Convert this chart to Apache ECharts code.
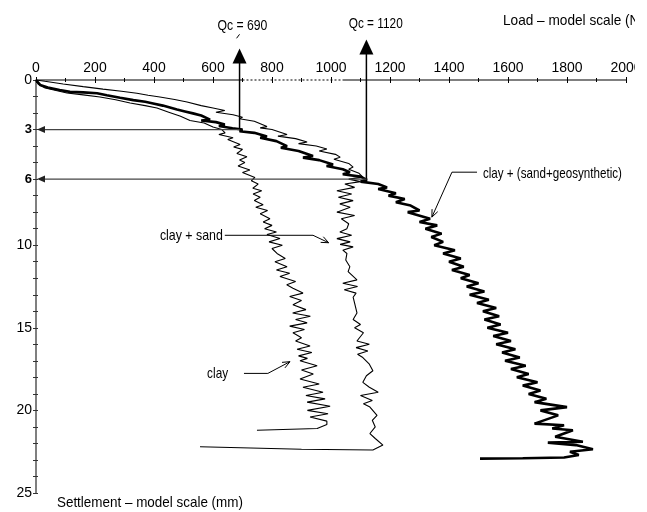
<!DOCTYPE html>
<html><head><meta charset="utf-8">
<script src="https://cdn.jsdelivr.net/npm/echarts@6/dist/echarts.min.js"></script>
<style>html,body{margin:0;padding:0;background:#fff}#c{width:647px;height:512px}</style>
</head><body><div id="c"></div>
<script>
// ---------- data (load N, settlement mm) ----------
const xTickValues = [0,200,400,600,800,1000,1200,1400,1600,1800,2000];
const yLabelValues = [0,3,6,10,15,20,25];
const yBoldValues = [3,6];

const clay = [[0,0],[7,0.24],[31,0.48],[105,0.79],[160,0.9],[217,1.03],[270,1.2],[319,1.39],[370,1.55],[410,1.7],[450,1.95],[490,2.2],[522,2.45],[570,2.6],[600,2.85],[630,3.0],[641,3.2],[620,3.3],[668,3.5],[650,3.6],[692,3.9],[670,4.05],[700,4.2],[681,4.45],[715,4.65],[690,4.85],[708,5.0],[685,5.2],[725,5.45],[700,5.6],[742,5.9],[730,6.1],[753,6.3],[735,6.55],[765,6.7],[736,6.9],[760,7.1],[740,7.3],[770,7.55],[745,7.7],[785,7.9],[760,8.1],[793,8.4],[770,8.6],[800,8.8],[775,9.0],[815,9.2],[783,9.35],[827,9.6],[790,9.8],[835,10.0],[800,10.2],[817,10.5],[845,10.8],[810,11.0],[851,11.3],[815,11.5],[860,11.7],[827,11.9],[880,12.2],[850,12.4],[871,12.6],[905,12.9],[860,13.1],[900,13.35],[871,13.6],[915,13.9],[870,14.1],[930,14.3],[880,14.5],[919,14.7],[860,14.9],[910,15.1],[871,15.3],[900,15.6],[880,15.8],[929,16.1],[885,16.3],[935,16.5],[890,16.7],[920,16.85],[895,17.0],[953,17.3],[900,17.55],[940,17.8],[895,18.1],[960,18.4],[905,18.6],[973,18.9],[915,19.1],[980,19.3],[919,19.5],[997,19.75],[920,20.0],[990,20.2],[929,20.4],[986,20.65],[986,20.85],[953,21.1],[749,21.2]];

const claySand = [[0,0],[30,0.08],[92,0.24],[160,0.4],[227,0.55],[290,0.68],[342,0.8],[380,0.92],[420,1.03],[470,1.18],[512,1.33],[560,1.55],[600,1.7],[640,1.85],[610,1.95],[668,2.1],[700,2.25],[690,2.35],[740,2.5],[783,2.82],[760,2.9],[800,3.0],[851,3.3],[820,3.4],[880,3.55],[919,3.75],[890,3.85],[950,4.0],[986,4.18],[960,4.3],[1015,4.5],[1031,4.67],[1010,4.8],[1060,5.05],[1075,5.27],[1060,5.4],[1095,5.65],[1108,5.88],[1060,6.0],[1100,6.15],[1047,6.3],[1080,6.5],[1020,6.7],[1070,6.9],[1025,7.1],[1075,7.3],[1030,7.5],[1065,7.7],[1020,8.0],[1080,8.2],[1035,8.4],[1060,8.7],[1054,9.0],[1030,9.2],[1070,9.4],[1020,9.6],[1065,9.8],[1031,9.95],[1075,10.1],[1040,10.3],[1054,10.5],[1050,10.9],[1064,11.3],[1058,11.6],[1088,12.1],[1040,12.3],[1090,12.5],[1045,12.7],[1085,12.9],[1075,13.15],[1080,13.5],[1088,14.1],[1075,14.5],[1100,14.8],[1080,15.0],[1110,15.3],[1088,15.8],[1130,16.0],[1085,16.2],[1125,16.4],[1090,16.6],[1108,16.8],[1130,17.2],[1142,17.6],[1120,17.9],[1108,18.3],[1130,18.6],[1160,18.9],[1100,19.1],[1140,19.4],[1110,19.6],[1132,19.8],[1156,20.3],[1140,20.6],[1150,21.0],[1132,21.4],[1150,21.7],[1176,22.1],[1142,22.4],[900,22.35],[556,22.2]];

const clayGeo = [[0,0],[5,0.1],[14,0.3],[40,0.45],[80,0.6],[115,0.72],[160,0.75],[207,0.8],[240,0.92],[285,1.08],[330,1.22],[370,1.32],[397,1.42],[430,1.55],[478,1.78],[505,1.9],[532,2.02],[560,2.15],[590,2.4],[560,2.45],[610,2.55],[640,2.7],[620,2.78],[666,2.92],[700,3.0],[690,3.1],[740,3.2],[783,3.42],[760,3.5],[815,3.7],[851,4.0],[830,4.1],[890,4.3],[939,4.6],[905,4.7],[960,4.85],[1007,5.12],[985,5.2],[1040,5.4],[1064,5.58],[1040,5.7],[1100,5.85],[1122,6.05],[1100,6.15],[1160,6.3],[1190,6.5],[1160,6.6],[1220,6.85],[1195,7.0],[1250,7.2],[1220,7.4],[1270,7.6],[1300,7.9],[1260,8.0],[1336,8.4],[1300,8.6],[1360,8.8],[1320,9.0],[1375,9.3],[1340,9.5],[1380,9.8],[1350,10.0],[1420,10.3],[1380,10.5],[1440,10.8],[1400,11.0],[1450,11.3],[1410,11.5],[1470,11.8],[1440,12.0],[1500,12.3],[1460,12.5],[1520,12.8],[1470,13.0],[1535,13.3],[1495,13.5],[1560,13.8],[1515,14.0],[1570,14.3],[1520,14.5],[1575,14.8],[1530,15.0],[1600,15.3],[1550,15.5],[1610,15.8],[1560,16.0],[1625,16.3],[1580,16.5],[1640,16.8],[1590,17.0],[1660,17.3],[1610,17.5],[1670,17.8],[1630,18.0],[1700,18.3],[1650,18.5],[1710,18.8],[1670,19.0],[1730,19.3],[1690,19.5],[1800,19.8],[1710,20.0],[1770,20.3],[1690,20.8],[1790,20.9],[1750,21.1],[1820,21.2],[1760,21.6],[1854,21.9],[1735,21.95],[1830,22.1],[1888,22.35],[1810,22.5],[1840,22.7],[1790,22.85],[1650,22.9],[1505,22.92]];

// annotations (data coordinates)
const qcLoads = [690, 1120];
const qcSettlements = [3, 6];
const qcArrowTops = [-1.9, -2.45];
const qcLabels = ['Qc = 690', 'Qc = 1120'];
const qcLabelPos = [[615,-3.25],[1060,-3.4]];
const dottedAxisRange = [700, 1040];
const curveLabels = ['clay', 'clay + sand', 'clay + (sand+geosynthetic)'];
const curveLabelPos = [[580,17.76],[420,9.45],[1515,5.7]];
const curveLeaders = [
  [[705,17.76],[786,17.76],[861,17.05]],
  [[640,9.4],[939,9.4],[992,9.85]],
  [[1495,5.58],[1410,5.58],[1342,8.3]]
];
const xTitle = 'Load – model scale (N)';
const yTitle = 'Settlement – model scale (mm)';
const xTitlePos = [1583,-3.55];
const yTitlePos = [71,25.6];

const FONT = "'Liberation Sans',Arial,sans-serif";
const ANN_SIZE = 15;
// target rendered widths of the condensed annotation texts
const annWidths = {'Qc = 690':50, 'Qc = 1120':54, 'clay':21, 'clay + sand':63, 'clay + (sand+geosynthetic)':139,
  'Settlement – model scale (mm)':186, 'Load – model scale (N)':141};

const ctx = document.createElement('canvas').getContext('2d');
ctx.font = ANN_SIZE + 'px ' + FONT;

const chart = echarts.init(document.getElementById('c'), null, {renderer:'canvas'});
const option = {
  animation:false,
  backgroundColor:'#fff',
  grid:{left:36, top:80, right:21, bottom:19},
  xAxis:[{
    type:'value', position:'top', min:0, max:2000, interval:200,
    axisLine:{show:false},
    axisTick:{show:true, length:3, lineStyle:{color:'#000', width:1}},
    minorTick:{show:true, splitNumber:2, length:2, lineStyle:{color:'#000'}},
    axisLabel:{color:'#000', fontSize:14, fontFamily:FONT, margin:5, formatter:v => String(v)},
    splitLine:{show:false}, minorSplitLine:{show:false}
  },{
    type:'value', position:'top', min:0, max:2000, interval:200,
    axisLine:{show:false},
    axisTick:{show:true, inside:true, length:3, lineStyle:{color:'#000'}},
    minorTick:{show:true, splitNumber:2, length:2, lineStyle:{color:'#000'}},
    axisLabel:{show:false}, splitLine:{show:false}
  }],
  yAxis:[{
    type:'value', inverse:true, min:0, max:25, interval:1,
    axisLine:{show:true, lineStyle:{color:'#555', width:1.5}},
    axisTick:{show:true, length:3, lineStyle:{color:'#333'}},
    axisLabel:{
      color:'#000', fontSize:14, fontFamily:FONT, margin:4,
      formatter:function(v){
        if (yLabelValues.indexOf(v) < 0) return '';
        return yBoldValues.indexOf(v) >= 0 ? '{b|' + v + '}' : String(v);
      },
      rich:{b:{fontWeight:'bold', fontSize:13, fontFamily:FONT, color:'#000'}}
    },
    splitLine:{show:false}
  },{
    type:'value', inverse:true, min:0, max:25, interval:1, position:'left',
    axisLine:{show:false},
    axisTick:{show:true, inside:true, length:2, lineStyle:{color:'#333'}},
    axisLabel:{show:false}, splitLine:{show:false}
  }],
  series:[
    {type:'line', data:[[0,0],[dottedAxisRange[0],0]], symbol:'none', clip:false, silent:true,
     lineStyle:{color:'#000', width:1.2}, z:1},
    {type:'line', data:[[dottedAxisRange[0],0],[dottedAxisRange[1],0]], symbol:'none', clip:false, silent:true,
     lineStyle:{color:'#000', width:1.2, type:[2,2]}, z:1},
    {type:'line', data:[[dottedAxisRange[1],0],[2000,0]], symbol:'none', clip:false, silent:true,
     lineStyle:{color:'#000', width:1.2}, z:1},
    {name:'clay', type:'line', data:clay, symbol:'none', lineStyle:{color:'#000', width:1.1}, z:3},
    {name:'clay + sand', type:'line', data:claySand, symbol:'none', lineStyle:{color:'#000', width:1.1}, z:3},
    {name:'clay + (sand+geosynthetic)', type:'line', data:clayGeo, symbol:'none', lineStyle:{color:'#000', width:2.6}, z:4}
  ]
};
chart.setOption(option);

const P = (x,y) => chart.convertToPixel({xAxisIndex:0, yAxisIndex:0}, [x,y]);
const g = [];
const txt = (t, p) => {
  const w = ctx.measureText(t).width;
  const sx = annWidths[t] ? Math.min(1, annWidths[t] / w) : 1;
  g.push({type:'text', z:20, x:p[0], y:p[1], scaleX:sx, originX:0, originY:0,
    style:{text:t, x:0, y:0, fill:'#000', font:ANN_SIZE+'px '+FONT, textAlign:'left', textVerticalAlign:'middle'}});
};
const line = (a,b,color,w) => g.push({type:'line', z:15, shape:{x1:a[0],y1:a[1],x2:b[0],y2:b[1]}, style:{stroke:color||'#000', lineWidth:w||1}});

// Qc arrows
for (let i=0;i<qcLoads.length;i++){
  const base = P(qcLoads[i], qcSettlements[i]);
  const top = P(qcLoads[i], qcArrowTops[i]);
  const axisPt = P(0, qcSettlements[i]);
  line(base, [top[0], top[1]+14], '#000', 1.5);
  g.push({type:'polygon', z:16, shape:{points:[[top[0],top[1]],[top[0]-7,top[1]+15],[top[0]+7,top[1]+15]]}, style:{fill:'#000'}});
  line([base[0], base[1]], [axisPt[0]+6, axisPt[1]], '#444', 1.3);
  g.push({type:'polygon', z:16, shape:{points:[[axisPt[0]+1,axisPt[1]],[axisPt[0]+9,axisPt[1]-3.5],[axisPt[0]+9,axisPt[1]+3.5]]}, style:{fill:'#222'}});
  txt(qcLabels[i], P(qcLabelPos[i][0], qcLabelPos[i][1]));
}
// small slash under Qc = 690
(function(){ const p = P(qcLoads[0], qcLabelPos[0][1]); line([p[0]-3,p[1]+12],[p[0],p[1]+8],'#000',1); })();

// curve labels with leaders
for (let i=0;i<curveLabels.length;i++){
  txt(curveLabels[i], P(curveLabelPos[i][0], curveLabelPos[i][1]));
  const pts = curveLeaders[i].map(d => P(d[0], d[1]));
  for (let k=0;k<pts.length-1;k++) line(pts[k], pts[k+1], '#000', 1);
  const a = pts[pts.length-2], b = pts[pts.length-1];
  const ang = Math.atan2(b[1]-a[1], b[0]-a[0]);
  const L = 8, s = 0.4;
  line(b, [b[0]-L*Math.cos(ang-s), b[1]-L*Math.sin(ang-s)], '#000', 1);
  line(b, [b[0]-L*Math.cos(ang+s), b[1]-L*Math.sin(ang+s)], '#000', 1);
}
txt(xTitle, P(xTitlePos[0], xTitlePos[1]));
txt(yTitle, P(yTitlePos[0], yTitlePos[1]));
// right crop of the original figure
g.push({type:'rect', z:30, shape:{x:635, y:0, width:20, height:512}, style:{fill:'#fff'}});
chart.setOption({graphic:g});
</script></body></html>
